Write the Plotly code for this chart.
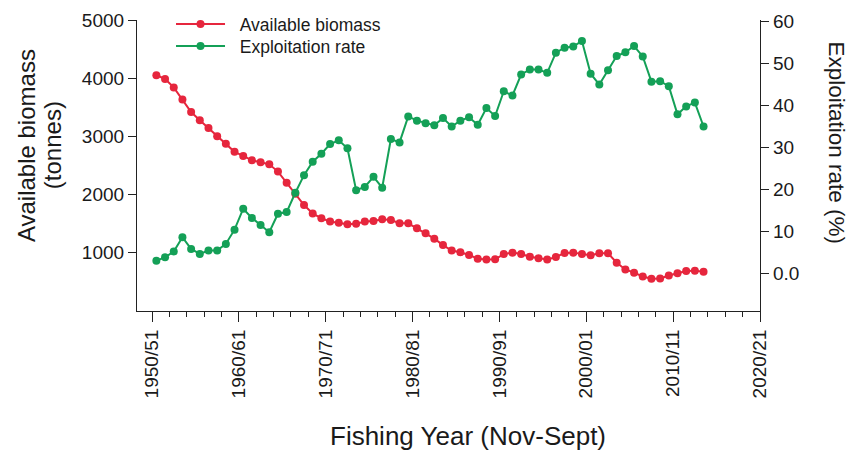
import plotly.graph_objects as go

# Fishing seasons (Nov-Sept), identified by the year each season starts
start_years = list(range(1950, 2014))

# Available biomass (tonnes), one value per season
biomass = [4050, 3985, 3840, 3630, 3415, 3275, 3140, 3000, 2870, 2730,
           2660, 2585, 2550, 2515, 2390, 2200, 2010, 1815, 1670, 1585,
           1530, 1510, 1485, 1490, 1530, 1540, 1570, 1555, 1500, 1500,
           1415, 1330, 1235, 1125, 1030, 1000, 955, 890, 875, 880,
           970, 995, 970, 925, 900, 875, 920, 990, 995, 970,
           950, 985, 985, 820, 705, 650, 585, 545, 550, 600,
           640, 680, 685, 665]

# Exploitation rate (%), one value per season
exploitation = [3.0, 3.8, 5.2, 8.6, 5.8, 4.6, 5.4, 5.4, 7.0, 10.4,
                15.4, 13.2, 11.5, 9.8, 14.2, 14.6, 19.2, 23.4, 26.6, 28.5,
                30.8, 31.7, 29.8, 19.8, 20.6, 23.0, 20.4, 32.0, 31.2, 37.4,
                36.4, 35.8, 35.3, 37.0, 35.0, 36.4, 37.2, 35.4, 39.4, 37.5,
                43.4, 42.4, 47.4, 48.6, 48.6, 47.8, 52.6, 53.8, 54.1, 55.4,
                47.6, 45.0, 48.4, 51.8, 52.7, 54.2, 51.7, 45.7, 45.8, 44.6,
                37.9, 39.8, 40.7, 35.0]

# Axis tick values and labels
decade_starts = [1950, 1960, 1970, 1980, 1990, 2000, 2010, 2020]
decade_labels = [f"{y}/{(y + 1) % 100:02d}" for y in decade_starts]
biomass_ticks = [1000, 2000, 3000, 4000, 5000]
rate_ticks = [0, 10, 20, 30, 40, 50, 60]
rate_labels = ["0.0", "10", "20", "30", "40", "50", "60"]

RED = "#e6263d"
GREEN = "#14a057"
AXIS = "#222222"
TEXT = "#1a1a1a"
FONT = "Liberation Sans, Arial, sans-serif"
NBSP = "\u00a0"

# each season is plotted at its midpoint
season_mid = [y + 0.5 for y in start_years]

fig = go.Figure()
fig.add_trace(go.Scatter(
    x=season_mid, y=biomass, name=NBSP * 2 + "Available biomass",
    mode="lines+markers",
    line=dict(color=RED, width=2),
    marker=dict(color=RED, size=8),
    yaxis="y", legend="legend",
))
fig.add_trace(go.Scatter(
    x=season_mid, y=exploitation, name=NBSP * 2 + "Exploitation rate",
    mode="lines+markers",
    line=dict(color=GREEN, width=2),
    marker=dict(color=GREEN, size=8),
    yaxis="y2", legend="legend2",
))

legend_style = dict(
    xanchor="left", yanchor="top",
    bgcolor="rgba(0,0,0,0)", borderwidth=0,
    font=dict(size=17.5, family=FONT, color=TEXT),
    itemwidth=49,
)

fig.update_layout(
    width=851, height=452,
    margin=dict(l=137, r=91, t=20, b=141, autoexpand=False),
    paper_bgcolor="white", plot_bgcolor="white",
    font=dict(family=FONT, color=TEXT, size=18),
    showlegend=True,
    legend=dict(x=0.0546, y=1.048, **legend_style),
    legend2=dict(x=0.0546, y=0.9725, **legend_style),
    xaxis=dict(
        range=[1948.27, 2020],
        tickmode="array", tickvals=decade_starts, ticktext=decade_labels,
        tickangle=-90, ticks="outside", ticklen=10, tickwidth=1.2,
        tickcolor=AXIS,
        minor=dict(dtick=2, tick0=1950, ticks="outside", ticklen=5,
                   tickwidth=1.2, tickcolor=AXIS, showgrid=False),
        showline=True, linecolor=AXIS, linewidth=1.2,
        showgrid=False, zeroline=False,
        tickfont=dict(size=19),
    ),
    yaxis=dict(
        range=[-10, 5000],
        tickmode="array", tickvals=biomass_ticks,
        ticks="outside", ticklen=8, tickwidth=1.2, tickcolor=AXIS,
        showline=True, linecolor=AXIS, linewidth=1.2,
        showgrid=False, zeroline=False,
        tickfont=dict(size=19),
    ),
    yaxis2=dict(
        range=[-9, 60.4], overlaying="y", side="right",
        tickmode="array", tickvals=rate_ticks, ticktext=rate_labels,
        ticks="outside", ticklen=8, tickwidth=1.2, tickcolor=AXIS,
        showline=True, linecolor=AXIS, linewidth=1.2,
        showgrid=False, zeroline=False,
        tickfont=dict(size=19),
    ),
)

# Axis titles
title_font = dict(family=FONT, color=TEXT)
fig.add_annotation(
    text="Fishing Year (Nov-Sept)", xref="paper", yref="paper",
    x=0.5313, y=-0.4296, xanchor="center", yanchor="middle",
    showarrow=False, font=dict(size=26, **title_font),
)
fig.add_annotation(
    text="Available biomass", xref="paper", yref="paper",
    x=-0.1782, y=0.570, xanchor="center", yanchor="middle", textangle=-90,
    showarrow=False, font=dict(size=24, **title_font),
)
fig.add_annotation(
    text="(tonnes)", xref="paper", yref="paper",
    x=-0.1364, y=0.570, xanchor="center", yanchor="middle", textangle=-90,
    showarrow=False, font=dict(size=24, **title_font),
)
fig.add_annotation(
    text="Exploitation rate (%)", xref="paper", yref="paper",
    x=1.122, y=0.579, xanchor="center", yanchor="middle", textangle=90,
    showarrow=False, font=dict(size=22.5, **title_font),
)

fig.write_html("out.html")
